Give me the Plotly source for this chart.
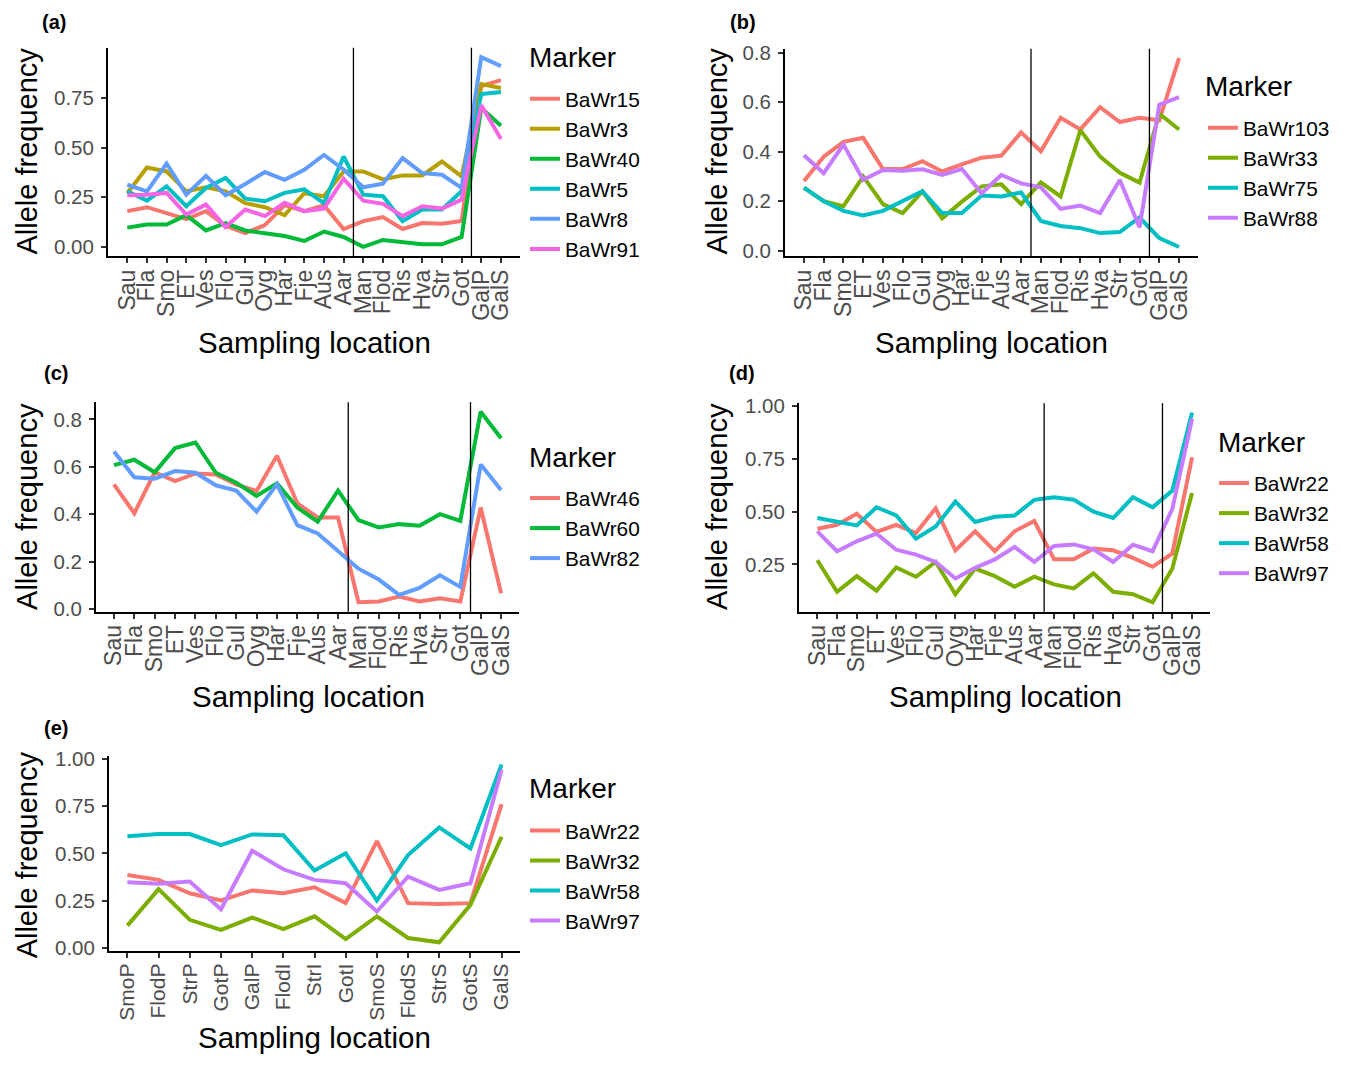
import plotly.graph_objects as go

# figure size chosen so the page fits the 1360x1067 window; positions below are
# given in target-picture pixels and converted to paper fractions
OFF = 8
W, H = 1360 - 2 * OFF, 1067 - 2 * OFF
Y0, YS = 15.2, 0.9855  # measured vertical placement of the figure in the picture

# ---------------- data ----------------
locs_ab = ["Sau", "Fla", "Smo", "ET", "Ves", "Flo", "Gul", "Oyg", "Har", "Fje",
           "Aus", "Aar", "Man", "Flod", "Ris", "Hva", "Str", "Got", "GalP", "GalS"]
locs_cd = locs_ab
locs_e = ["SmoP", "FlodP", "StrP", "GotP", "GalP", "FlodI", "StrI", "GotI",
          "SmoS", "FlodS", "StrS", "GotS", "GalS"]

# panel (a)
a_BaWr15 = [0.18, 0.20, 0.17, 0.14, 0.18, 0.105, 0.07, 0.11, 0.21, 0.18, 0.21, 0.09, 0.13, 0.15, 0.09, 0.12, 0.117, 0.13, 0.81, 0.84]
a_BaWr3 = [0.27, 0.40, 0.38, 0.28, 0.30, 0.28, 0.22, 0.20, 0.16, 0.27, 0.255, 0.38, 0.38, 0.34, 0.36, 0.36, 0.43, 0.355, 0.82, 0.80]
a_BaWr40 = [0.097, 0.113, 0.113, 0.16, 0.083, 0.12, 0.083, 0.067, 0.055, 0.03, 0.077, 0.05, 0.0, 0.035, 0.022, 0.013, 0.013, 0.05, 0.70, 0.61]
a_BaWr5 = [0.28, 0.233, 0.305, 0.205, 0.297, 0.347, 0.243, 0.23, 0.272, 0.29, 0.22, 0.455, 0.263, 0.255, 0.13, 0.188, 0.188, 0.28, 0.77, 0.78]
a_BaWr8 = [0.313, 0.28, 0.42, 0.263, 0.358, 0.26, 0.317, 0.377, 0.338, 0.388, 0.463, 0.39, 0.30, 0.318, 0.447, 0.372, 0.363, 0.297, 0.955, 0.91]
a_BaWr91 = [0.26, 0.263, 0.272, 0.163, 0.213, 0.10, 0.188, 0.155, 0.222, 0.18, 0.193, 0.343, 0.233, 0.217, 0.155, 0.205, 0.193, 0.238, 0.713, 0.543]

# panel (b)
b_BaWr103 = [0.282, 0.38, 0.44, 0.456, 0.33, 0.33, 0.362, 0.32, 0.349, 0.376, 0.384, 0.478, 0.402, 0.537, 0.49, 0.58, 0.52, 0.537, 0.527, 0.778]
b_BaWr33 = [0.255, 0.20, 0.18, 0.30, 0.188, 0.152, 0.24, 0.131, 0.198, 0.26, 0.268, 0.188, 0.276, 0.219, 0.487, 0.38, 0.315, 0.275, 0.554, 0.49]
b_BaWr75 = [0.255, 0.20, 0.161, 0.142, 0.161, 0.20, 0.24, 0.152, 0.152, 0.223, 0.219, 0.235, 0.12, 0.10, 0.091, 0.071, 0.075, 0.134, 0.051, 0.015]
b_BaWr88 = [0.386, 0.313, 0.429, 0.286, 0.326, 0.323, 0.329, 0.306, 0.33, 0.232, 0.306, 0.272, 0.256, 0.169, 0.182, 0.152, 0.286, 0.094, 0.59, 0.621]

# panel (c)
c_BaWr46 = [0.526, 0.404, 0.577, 0.54, 0.572, 0.568, 0.526, 0.498, 0.647, 0.446, 0.386, 0.386, 0.028, 0.031, 0.052, 0.031, 0.045, 0.031, 0.428, 0.066]
c_BaWr60 = [0.607, 0.63, 0.577, 0.679, 0.703, 0.575, 0.533, 0.477, 0.53, 0.428, 0.368, 0.50, 0.375, 0.344, 0.358, 0.351, 0.40, 0.372, 0.833, 0.721]
c_BaWr82 = [0.665, 0.556, 0.55, 0.582, 0.575, 0.522, 0.50, 0.411, 0.526, 0.354, 0.319, 0.247, 0.17, 0.124, 0.059, 0.089, 0.142, 0.093, 0.61, 0.502]

# panel (d)
d_BaWr22 = [0.419, 0.438, 0.49, 0.404, 0.438, 0.399, 0.516, 0.317, 0.407, 0.313, 0.407, 0.456, 0.275, 0.275, 0.325, 0.317, 0.281, 0.239, 0.302, 0.757]
d_BaWr32 = [0.27, 0.121, 0.195, 0.126, 0.236, 0.192, 0.262, 0.109, 0.231, 0.195, 0.145, 0.192, 0.156, 0.137, 0.208, 0.121, 0.109, 0.071, 0.231, 0.589]
d_BaWr58 = [0.47, 0.454, 0.435, 0.521, 0.482, 0.372, 0.43, 0.548, 0.451, 0.476, 0.482, 0.556, 0.568, 0.557, 0.50, 0.47, 0.568, 0.521, 0.60, 0.969]
d_BaWr97 = [0.407, 0.313, 0.36, 0.396, 0.32, 0.297, 0.262, 0.184, 0.234, 0.274, 0.333, 0.262, 0.338, 0.345, 0.322, 0.262, 0.344, 0.313, 0.513, 0.94]

# panel (e)
e_BaWr22 = [0.386, 0.36, 0.289, 0.251, 0.304, 0.289, 0.321, 0.237, 0.565, 0.237, 0.233, 0.237, 0.76]
e_BaWr32 = [0.118, 0.311, 0.149, 0.096, 0.161, 0.10, 0.167, 0.047, 0.167, 0.053, 0.03, 0.228, 0.588]
e_BaWr58 = [0.591, 0.602, 0.602, 0.544, 0.60, 0.596, 0.409, 0.50, 0.251, 0.491, 0.637, 0.526, 0.97]
e_BaWr97 = [0.347, 0.339, 0.351, 0.205, 0.514, 0.416, 0.36, 0.342, 0.193, 0.377, 0.307, 0.342, 0.942]

y_ticks_a = [0.0, 0.25, 0.5, 0.75]
y_ticks_b = [0.0, 0.2, 0.4, 0.6, 0.8]
y_ticks_c = [0.0, 0.2, 0.4, 0.6, 0.8]
y_ticks_d = [0.25, 0.5, 0.75, 1.0]
y_ticks_e = [0.0, 0.25, 0.5, 0.75, 1.0]

# ---------------- style ----------------
FONT = "Liberation Sans, Arial, Helvetica, sans-serif"
HUE6 = ["#F8766D", "#B79F00", "#00BA38", "#00BFC4", "#619CFF", "#F564E3"]
HUE4 = ["#F8766D", "#7CAE00", "#00BFC4", "#C77CFF"]
HUE3 = ["#F8766D", "#00BA38", "#619CFF"]


def px_x(p):
    return (p - OFF) / W


def px_y(p):
    return 1 - ((p - Y0) / YS) / H


panels = [
    dict(tag="(a)", locs=locs_ab,
         series=[("BaWr15", a_BaWr15), ("BaWr3", a_BaWr3), ("BaWr40", a_BaWr40),
                 ("BaWr5", a_BaWr5), ("BaWr8", a_BaWr8), ("BaWr91", a_BaWr91)],
         colors=HUE6, xd=(108, 520), yd=(46, 255), pad=(0.98, 0.97),
         vlines=[11.5, 17.5], yticks=y_ticks_a, fmt="{:.2f}", xfs=23,
         leg=(525, 98), mk=(527, 56), tagpos=(54, 20), ytitle=(27, 150), xtitle=(314, 341)),
    dict(tag="(b)", locs=locs_ab,
         series=[("BaWr103", b_BaWr103), ("BaWr33", b_BaWr33), ("BaWr75", b_BaWr75),
                 ("BaWr88", b_BaWr88)],
         colors=HUE4, xd=(785, 1198), yd=(47, 255), pad=(0.96, 0.96),
         vlines=[11.5, 17.5], yticks=y_ticks_b, fmt="{:.1f}", xfs=23,
         leg=(1203, 127), mk=(1203, 85), tagpos=(743, 20), ytitle=(717, 150), xtitle=(991, 341)),
    dict(tag="(c)", locs=locs_cd,
         series=[("BaWr46", c_BaWr46), ("BaWr60", c_BaWr60), ("BaWr82", c_BaWr82)],
         colors=HUE3, xd=(96, 519), yd=(401, 611), pad=(0.88, 0.88),
         vlines=[11.5, 17.5], yticks=y_ticks_c, fmt="{:.1f}", xfs=23,
         leg=(525, 498), mk=(527, 456), tagpos=(56, 372), ytitle=(27, 506), xtitle=(308, 696)),
    dict(tag="(d)", locs=locs_cd,
         series=[("BaWr22", d_BaWr22), ("BaWr32", d_BaWr32), ("BaWr58", d_BaWr58),
                 ("BaWr97", d_BaWr97)],
         colors=HUE4, xd=(799, 1210), yd=(402, 611), pad=(0.93, 0.91),
         vlines=[11.5, 17.5], yticks=y_ticks_d, fmt="{:.2f}", xfs=23,
         leg=(1214, 483), mk=(1216, 441), tagpos=(742, 372), ytitle=(717, 506), xtitle=(1005, 696)),
    dict(tag="(e)", locs=locs_e,
         series=[("BaWr22", e_BaWr22), ("BaWr32", e_BaWr32), ("BaWr58", e_BaWr58),
                 ("BaWr97", e_BaWr97)],
         colors=HUE4, xd=(109, 520), yd=(755, 951), pad=(0.59, 0.59),
         vlines=[], yticks=y_ticks_e, fmt="{:.2f}", xfs=21,
         leg=(525, 831), mk=(527, 788), tagpos=(56, 727), ytitle=(27, 855), xtitle=(314, 1037)),
]

fig = go.Figure()
layout = dict(width=W, height=H, margin=dict(l=0, r=0, t=0, b=0),
              paper_bgcolor="white", plot_bgcolor="white",
              font=dict(family=FONT, color="black"), showlegend=True)
annotations = []
shapes = []

for i, p in enumerate(panels):
    k = "" if i == 0 else str(i + 1)
    xa, ya = "x" + k, "y" + k
    leg = "legend" + k
    for (name, vals), col in zip(p["series"], p["colors"]):
        fig.add_trace(go.Scatter(x=p["locs"], y=vals, mode="lines", name=name,
                                 line=dict(color=col, width=4),
                                 xaxis=xa, yaxis=ya, legend=leg))
    allv = [v for _, vals in p["series"] for v in vals]
    lo, hi = min(allv), max(allv)
    span = hi - lo
    n = len(p["locs"])
    axis_common = dict(showgrid=False, zeroline=False, showline=True,
                       linecolor="black", linewidth=2, ticks="outside",
                       ticklen=5, tickwidth=1.5, tickcolor="#333333")
    layout["xaxis" + k] = dict(axis_common, type="category",
                               categoryorder="array", categoryarray=p["locs"],
                               tickmode="array", tickvals=p["locs"], ticktext=p["locs"],
                               domain=[px_x(p["xd"][0]), px_x(p["xd"][1])],
                               range=[-p["pad"][0], n - 1 + p["pad"][1]],
                               anchor=ya, tickangle=-90, ticklabelstandoff=-3,
                               tickfont=dict(size=p["xfs"], color="#4D4D4D"))
    layout["yaxis" + k] = dict(axis_common,
                               domain=[px_y(p["yd"][1]), px_y(p["yd"][0])],
                               range=[lo - 0.05 * span, hi + 0.05 * span],
                               anchor=xa, tickvals=p["yticks"],
                               ticktext=[p["fmt"].format(t) for t in p["yticks"]],
                               ticklabelstandoff=3,
                               tickfont=dict(size=20.5, color="#4D4D4D"))
    layout[leg] = dict(x=px_x(p["leg"][0]), y=px_y(p["leg"][1] - 21),
                       xanchor="left", yanchor="top", xref="paper", yref="paper",
                       bgcolor="rgba(0,0,0,0)", itemwidth=30,
                       font=dict(size=20.8, color="black"))
    for v in p["vlines"]:
        shapes.append(dict(type="line", xref=xa, yref=ya + " domain",
                           x0=v, x1=v, y0=0, y1=1,
                           line=dict(color="black", width=1.3)))
    annotations.append(dict(text="<b>" + p["tag"] + "</b>", xref="paper", yref="paper",
                            x=px_x(p["tagpos"][0]), y=px_y(p["tagpos"][1]),
                            showarrow=False, font=dict(size=20),
                            xanchor="center", yanchor="middle"))
    annotations.append(dict(text="Marker", xref="paper", yref="paper",
                            x=px_x(p["mk"][0]), y=px_y(p["mk"][1]),
                            showarrow=False, font=dict(size=28),
                            xanchor="left", yanchor="middle"))
    annotations.append(dict(text="Allele frequency", xref="paper", yref="paper",
                            x=px_x(p["ytitle"][0]), y=px_y(p["ytitle"][1]),
                            showarrow=False, textangle=-90, font=dict(size=29),
                            xanchor="center", yanchor="middle"))
    annotations.append(dict(text="Sampling location", xref="paper", yref="paper",
                            x=px_x(p["xtitle"][0]), y=px_y(p["xtitle"][1]),
                            showarrow=False, font=dict(size=29.5),
                            xanchor="center", yanchor="middle"))

layout["annotations"] = annotations
layout["shapes"] = shapes
fig.update_layout(**layout)
fig.write_html("out.html")
